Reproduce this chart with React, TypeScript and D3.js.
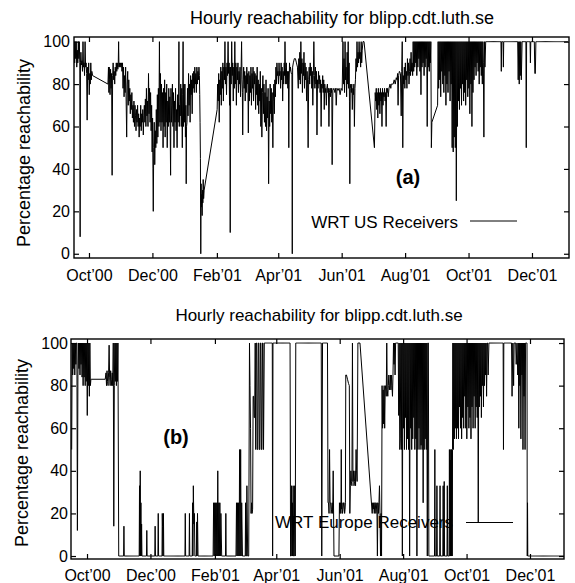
import React, { useEffect, useRef } from 'react';
import * as d3 from 'd3';

// day 0 of the hourly arrays = 16 Sep 2000 (UTC)
const startDay = Date.UTC(2000, 8, 16);
const dayMs = 24 * 60 * 60 * 1000;

const monthTicks = [
  Date.UTC(2000, 9, 1), Date.UTC(2000, 11, 1), Date.UTC(2001, 1, 1), Date.UTC(2001, 3, 1),
  Date.UTC(2001, 5, 1), Date.UTC(2001, 7, 1), Date.UTC(2001, 9, 1), Date.UTC(2001, 11, 1),
];
const monthLabels = ['Oct’00', 'Dec’00', 'Feb’01', 'Apr’01', 'Jun’01', 'Aug’01', 'Oct’01', 'Dec’01'];
const pctTicks = [0, 20, 40, 60, 80, 100];

// reachability samples (%) per day; [] = no samples that day
const usReach: number[][] = [
  [88,100],[90,100],[92,100],[88,96],[90,100],[92,100],[90,8,90],[95,89],[91,86],[100,88],
  [90,84],[100,88],[90,85],[63,88],[82,90],[75,85],[80,90],[82,86],[84],[],
  [],[],[],[],[],[],[],[],[],[],
  [],[],[],[80,88],[76,88,82],[75,87],[78,85],[37,84],[90,82],[86,80],
  [88,84],[90,86],[90,87],[90,100,88],[90,88],[90,88],[90,86],[90,78],[88,74],[84,76],
  [88,72],[55,80],[86,70],[82,72],[78,66],[75,68],[76,64],[70,62],[72,60],[70,65],
  [58,68],[62,70],[60,66],[55,64],[60,70],[58,66],[62,68],[56,65],[70,62],[73,60],
  [78,65],[72,60],[85,66],[78,62],[76,58],[70,48],[64,40,20],[50,62],[42,58],[50,68],
  [52,75],[55,78],[60,100],[62,85],[58,80],[62,76],[50,78],[60,82],[55,76],[62,80],
  [50,72],[60,78],[62,74],[55,37,78],[62,70],[80,60],[76,50],[72,62],[78,58],[68,50],
  [75,62],[72,100,60],[70,65],[80,60],[78,50],[75,100,60],[80,62],[80,55],[70,33,60],[62,78],
  [65,85],[70,80],[62,84],[75,82],[66,85],[78,86],[76,88],[80,85],[76,88],[80,86],
  [82,88],[84,75,62],[45,0,33],[22,28,18],[30,24,35],[26,30],[],[],[],[],
  [],[],[],[],[],[],[],[],[68,80],[72,85],
  [62,82],[75,88],[70,86],[78,90],[72,88],[82,100],[80,88],[75,90],[84,100],[85,90],
  [70,88,10],[88,80],[100,84],[90,72],[88,78],[100,80],[90,70],[88,82],[90,76],[86,80],
  [88,74],[86,100],[82,76,56],[80,88],[78,86],[72,84],[76,88],[80,85],[57,86],[72,84],
  [76,88],[70,85],[78,88],[72,86],[80,85],[68,84],[75,88],[70,82],[66,80],[72,86],
  [60,78],[55,76],[84,66],[80,62],[76,60],[82,58],[74,64],[78,33],[72,60],[80,66],
  [78,62],[76,64,50],[72,80],[66,82],[74,88],[80,90],[84,86],[80,90],[84,86],[78,90],
  [82,88],[72,86],[80,90],[84,100,88],[80,90],[80,86],[78,86],[50,80,90],[86,88],[85],
  [85,0,88],[90],[92],[92],[90],[88],[78,92],[82,95],[80,100],[85,92],
  [76,90],[84,95],[78,90],[82,88],[72,86],[80,50],[82,88],[80,90],[84,88],[78,86],
  [70,84],[100,84],[78,88],[80,86],[56,82],[78,86],[80,84],[76,82],[60,80],[78,84],
  [76,82],[68,80],[76,78],[70,78],[80,76],[78,60],[76,78],[74,78],[76,78,42],[77],
  [78],[76],[78,70],[78],[77],[78],[75],[78],[77],[100,80],
  [92,76],[100,82],[88,74],[95,80],[100,78],[90,72,33],[78,80],[76,80],[68,78],[75,80],
  [60,78],[82,92],[86,100],[88,95],[90,100],[92,95],[88,100],[90,96],[100],[100],
  [],[],[],[],[],[],[],[],[],[50],
  [76,72],[78,68],[76,64],[78,70],[76,66],[78,72],[76,60],[78,70],[76,74],[78,72],
  [76,60],[78,76],[78,74],[78],[80],[78,80],[80],[80],[82],[80],
  [83],[82,85],[70,84],[86],[85],[65,86],[100,50],[84,80],[88,78],[90,82],
  [86,78],[92,84],[90,80],[86,92],[84,95],[86,90],[84,100],[86,100],[88,100],[90,100],
  [84,100],[88,100],[92,100],[86,100],[75,100],[88,100],[90,100],[84,100],[88,100],[92,100],
  [60,100],[88,100],[86,100],[90,100],[50,62],[],[],[],[],[],
  [70,100],[78,100],[82,100],[74,100],[86,100],[80,100],[76,100],[84,100],[70,100],[80,100],
  [76,100],[86,100],[72,100],[80,100],[50,100],[48,100],[55,100],[50,100],[25,100],[60,100],
  [72,100],[68,100],[78,100],[70,100],[80,100],[72,100],[76,100],[70,100],[82,100],[74,100],
  [78,100],[66,100],[80,100],[60,100],[76,100],[82,100],[88,100],[84,100],[90,100],[86,100],
  [80,100],[88,100],[84,100],[80,100],[90,55],[100,88],[100],[100],[100],[100],
  [100],[100],[100],[100],[100],[100],[100],[100],[100],[100],
  [100],[100,86,100],[100],[100,88,100],[100],[100],[100],[100],[100],[100],
  [100],[100],[100],[100],[100],[100],[100],[100,82],[100,80],[100,84],
  [100,82],[100],[100],[100],[100],[100,50,100],[100],[100],[100],[100,90,100],
  [100],[100],[100],[100,85],[85,100],[100],[100],[100],[100],[100],
  [100],[100],[100],[100],[100],[100],[100],[100],[100],[100],
  [100],[100],[100],[100],[100],[100],[100],[100],[100],[100],
  [100],[100],[100],[100],[100],[100],
];

const europeReach: number[][] = [
  [50,100],[85,100],[88,100],[85,100],[90,100],[100,12],[85,100],[88,100],[85,100],[90,100],
  [84,100],[80,100],[84,100],[80,100],[82,100],[66,100],[80,100],[75,100],[80,83],[83],
  [],[],[],[],[],[],[],[],[],[],
  [],[],[83],[86,80],[87,82],[80,86],[99,84],[80,87],[83,80],[86,80],
  [100,14],[80,100],[82,100],[80,100],[82,100],[0],[0],[0],[0],[0],
  [0,14,0],[0],[0],[0],[0],[0],[0],[0],[0],[0],
  [0],[0],[0],[0],[0],[0,33,0],[40,0,25],[0,15,0],[0],[0],
  [0],[0],[0,12,0],[0],[0],[0],[0],[0],[0],[0],
  [0,14,0],[0],[0],[0,20,0],[0],[0],[0],[0,20,14,0],[0,20,0],[0],
  [0],[0],[0],[0],[0],[0],[0],[0],[0],[0],
  [0],[0],[0],[0],[0],[0],[0],[0],[0],[0,20,0],
  [0],[0],[0],[0,20,0],[0],[0],[0,25,0],[33,15],[20,0],[0],
  [0,16,0],[20,0],[0],[0],[0],[0],[0],[0],[0],[0],
  [0],[0],[0],[0],[0],[0],[0,25],[0,25],[0,25],[0,25],
  [0,40],[0,25],[0,25],[0,20],[0],[0],[0],[0],[0,20,0],[0],
  [0],[0],[0],[0],[0],[0],[0],[0],[0,25],[0,25],
  [0,25],[0,50],[0,50],[0,25],[0],[0],[0],[0,25,0],[0,33],[0],
  [0],[100,80],[60,20],[25,20],[22,75],[75,65],[65,100],[50,100],[100,50],[50,100],
  [100,50],[50,100],[100,50],[50,100],[100,50],[100],[100],[100],[100],[100],
  [100],[100],[100],[100,0,100],[100],[100],[100],[100],[100],[100],
  [100],[100],[100],[100],[100],[100],[100],[100],[100],[100],
  [100,0],[0,33],[0,25,0],[33,0],[0,33],[0,100],[100],[100],[100],[100],
  [100],[100],[100],[100],[100],[100],[100],[100],[100],[100],
  [100],[100],[100],[100],[100],[100],[100],[100],[100],[100],
  [100,0],[100],[100],[100],[100],[100],[100,25],[25,20],[50,25],[25,20],
  [22,25],[20,40],[0],[0],[0],[0],[0],[0,25],[20,25],[20,50,22],
  [25,20],[22,25],[25,20],[22,25,85],[85],[83],[81],[80,20],[33,40],[35,33],
  [100,35],[40,33],[35,40],[33,50],[40,35],[100],[100],[100],[],[],
  [],[],[],[],[],[],[],[],[],[20,25],
  [22,25],[20,25],[25,20],[22,25],[0,25],[20,25],[33,20],[0,20],[0,80],[60,78],
  [62,80],[60,78],[80,75],[100,78],[75,80],[85,78],[80,85],[78,85],[80,75],[85,100],
  [90,100],[85,100],[100],[100],[100,66],[100,50],[55,100],[50,100],[0,100],[60,100],
  [50,100],[65,100],[50,100],[55,100],[50,100],[0,100],[60,100],[50,100],[55,100],[65,100],
  [50,100],[55,100],[0,100],[50,100],[60,100],[50,100],[52,100],[50,100],[25,100],[50,100],
  [55,100],[50,100],[0,100],[100,0],[0],[0],[0],[0],[0],[0,50,0],
  [0],[0,33,0],[0],[0],[0,33,0],[0],[0],[0,33,0],[0,35,0],[0],
  [0],[0,33,0],[0],[0,50,0],[0,45,0,50],[0,50,0,48],[0,50,100],[50,100],[55,100],[60,100],
  [55,100],[60,100],[55,100],[70,100],[60,100],[55,100],[65,100],[60,100],[75,100],[60,100],
  [55,100],[70,100],[60,100],[65,100],[55,100],[70,100],[60,100],[75,100],[60,100],[70,100],
  [65,100],[16,100],[70,100],[75,100],[65,100],[80,100],[70,100],[80,100],[85,100],[75,100],
  [100,85],[100],[100],[100],[100],[100],[100],[100],[100],[100],
  [100],[100],[100],[100],[100],[100,50,100],[100],[100],[100],[100],
  [100],[100],[100],[100,75],[100],[80,100],[100],[100,90],[100],[85,100],
  [60,100],[80,100],[55,100],[85,100],[50,100],[75,100],[50,100],[100],[100,0,25,0],[0],
  [0],[0],[0],[0],[0],[0],[0],[0],[0],[0],
  [0],[0],[0],[0],[0],[0],[0],[0],[0],[0],
  [0],[0],[0],[0],[0],[0],[0],[0],[0],[0],
  [0],[0],[0],[0],
];

const font = '"Liberation Sans", Arial, Helvetica, sans-serif';

const panels = [
  {
    id: 'a', data: usReach, title: 'Hourly reachability for blipp.cdt.luth.se', legend: 'WRT US Receivers', tag: '(a)',
    left: 74, right: 569, top: 37, bottom: 258, dayFrom: 0.6, dayTo: 476.6, yFrom: -2, yTo: 102.2,
    titleX: 342, titleY: 24, titleSize: 18, labelX: 29.5, labelY: 153, xPad: 12, yPad: 4,
    legendX: 458, legendY: 228, lineX1: 470, lineX2: 517, lineY: 221, tagX: 408, tagY: 184,
  },
  {
    id: 'b', data: europeReach, title: 'Hourly reachability for blipp.cdt.luth.se', legend: 'WRT Europe Receivers', tag: '(b)',
    left: 71, right: 564, top: 339, bottom: 559, dayFrom: -0.4, dayTo: 473.7, yFrom: -1.4, yTo: 101.9,
    titleX: 319, titleY: 321, titleSize: 17, labelX: 28, labelY: 453, xPad: 11, yPad: 3,
    legendX: 453, legendY: 528, lineX1: 466, lineX2: 513, lineY: 522.5, tagX: 176, tagY: 444,
  },
];

const App = () => {
  const svgRef = useRef<SVGSVGElement | null>(null);

  useEffect(() => {
    if (!svgRef.current) return;
    const svg = d3.select(svgRef.current);
    svg.selectAll('*').remove();

    panels.forEach((p) => {
      const x = d3.scaleUtc()
        .domain([new Date(startDay + p.dayFrom * dayMs), new Date(startDay + p.dayTo * dayMs)])
        .range([p.left, p.right]);
      const y = d3.scaleLinear().domain([p.yFrom, p.yTo]).range([p.bottom, p.top]);

      const g = svg.append('g');

      g.append('text')
        .attr('x', p.titleX).attr('y', p.titleY)
        .attr('text-anchor', 'middle')
        .attr('font-family', font).attr('font-size', p.titleSize)
        .text(p.title);

      g.append('text')
        .attr('transform', `translate(${p.labelX},${p.labelY}) rotate(-90)`)
        .attr('text-anchor', 'middle')
        .attr('font-family', font).attr('font-size', 18)
        .text('Percentage reachability');

      const tickDates = monthTicks.map((t) => new Date(t));
      const fmt = (d: any) => monthLabels[monthTicks.indexOf(+d)];

      g.append('g').attr('transform', `translate(0,${p.bottom})`)
        .call(d3.axisBottom(x).tickValues(tickDates).tickSize(-5).tickPadding(p.xPad).tickFormat(fmt));
      g.append('g').attr('transform', `translate(0,${p.top})`)
        .call(d3.axisTop(x).tickValues(tickDates).tickSize(-5).tickFormat(() => ''));
      g.append('g').attr('transform', `translate(${p.left},0)`)
        .call(d3.axisLeft(y).tickValues(pctTicks).tickSize(-5).tickPadding(p.yPad));
      g.append('g').attr('transform', `translate(${p.right},0)`)
        .call(d3.axisRight(y).tickValues(pctTicks).tickSize(-5).tickFormat(() => ''));

      g.selectAll('.domain').remove();
      g.selectAll('.tick line').attr('stroke', '#000').attr('stroke-width', 1.2);
      g.selectAll('.tick text').attr('font-family', font).attr('font-size', 16).attr('fill', '#000');

      // legend + panel tag
      g.append('text')
        .attr('x', p.legendX).attr('y', p.legendY)
        .attr('text-anchor', 'end')
        .attr('font-family', font).attr('font-size', 17)
        .text(p.legend);
      g.append('line')
        .attr('x1', p.lineX1).attr('x2', p.lineX2)
        .attr('y1', p.lineY).attr('y2', p.lineY)
        .attr('stroke', '#000').attr('stroke-width', 1);
      g.append('text')
        .attr('x', p.tagX).attr('y', p.tagY)
        .attr('text-anchor', 'middle')
        .attr('font-family', font).attr('font-size', 20).attr('font-weight', 'bold')
        .text(p.tag);

      // hourly series
      const pts: [number, number][] = [];
      p.data.forEach((vals, day) => {
        vals.forEach((v, k) => pts.push([startDay + (day + (k + 0.5) / vals.length) * dayMs, v]));
      });

      svg.append('clipPath').attr('id', `clip-${p.id}`)
        .append('rect')
        .attr('x', p.left).attr('y', p.top)
        .attr('width', p.right - p.left).attr('height', p.bottom - p.top);

      const line = d3.line<[number, number]>()
        .x((d) => x(new Date(d[0])))
        .y((d) => y(d[1]));

      g.append('path')
        .datum(pts)
        .attr('clip-path', `url(#clip-${p.id})`)
        .attr('fill', 'none')
        .attr('stroke', '#000')
        .attr('stroke-width', 1)
        .attr('d', line);

      g.append('rect')
        .attr('x', p.left).attr('y', p.top)
        .attr('width', p.right - p.left).attr('height', p.bottom - p.top)
        .attr('fill', 'none').attr('stroke', '#000').attr('stroke-width', 1.4);
    });
  }, []);

  return (
    <svg
      ref={svgRef}
      width={575}
      height={583}
      style={{ position: 'absolute', left: 0, top: 0, background: '#fff' }}
    />
  );
};

export default App;
